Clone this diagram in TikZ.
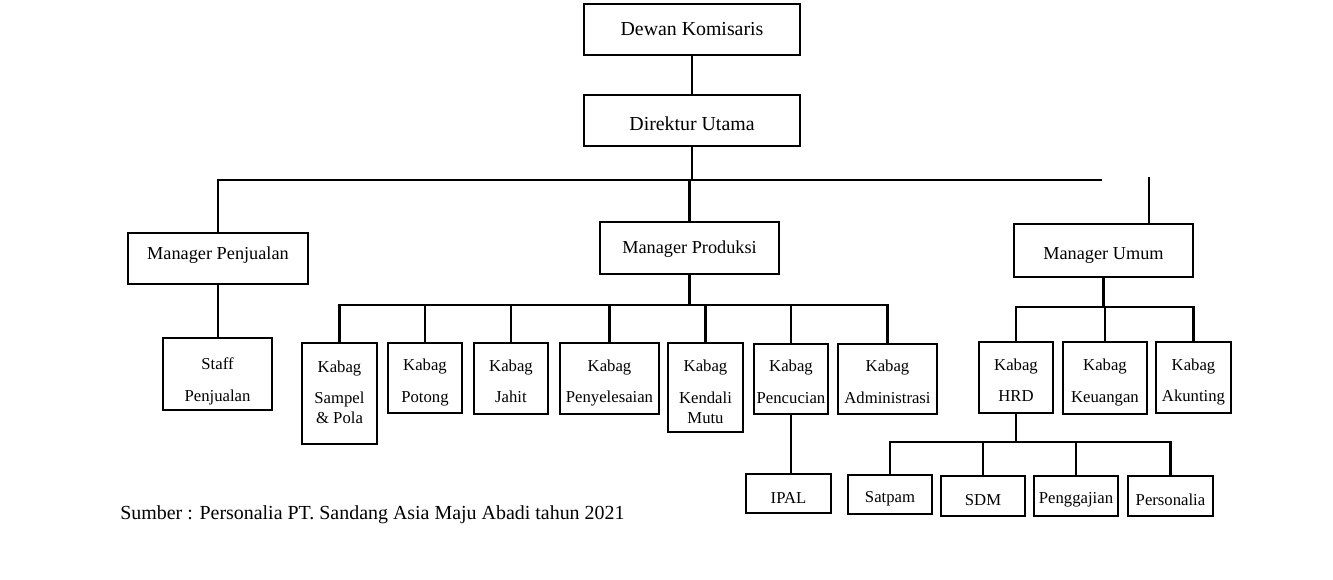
\documentclass[tikz,border=0pt]{standalone}
\usepackage{fontspec}
\setmainfont{Liberation Serif}

\def\u{0.02cm}
\def\gap{6.2pt}
\tikzset{
	lift/.style={execute at begin node={\rule{0pt}{#1}}},
	box/.style={draw=black, line width=1.5pt, align=center, inner sep=0pt, font=\fontsize{9.5}{11.6}\selectfont, lift=11pt},
	kab/.style={box, text height=27.6pt, text depth=0pt},
	top/.style={draw=black, line width=1.5pt, align=center, inner sep=0pt, font=\fontsize{11.3}{13}\selectfont},
	mgr/.style={top, font=\fontsize{10.4}{12}\selectfont},
	sz/.style 2 args={minimum width=#1*\u, minimum height=#2*\u},
	link/.style={line width=1.2pt},
}

\begin{document}
\begin{tikzpicture}[x=\u, y=-\u]
	\useasboundingbox (0,0) rectangle (1333,579);
	\node[top, sz={216}{51}] (dewan) at (692,29.5) {Dewan Komisaris};
	\node[top, sz={216}{51}, lift=11pt] (dirut) at (692,120.5) {Direktur Utama};
	\node[mgr, sz={180}{51}, text depth=5.6pt] (mpenj) at (218,258.5) {Manager Penjualan};
	\node[mgr, sz={179}{52}, lift=9pt] (mprod) at (689.5,248) {Manager Produksi};
	\node[mgr, sz={179}{53}, lift=12.5pt] (mumum) at (1103.5,250.5) {Manager Umum};
	\node[kab, sz={109}{72}, text height=30.9pt] (staff) at (217.5,374) {Staff\\[\gap]Penjualan};
	\node[kab, sz={75}{101}, text height=34.6pt] (sampel) at (339.5,393.5) {Kabag\\[\gap]Sampel\\\& Pola};
	\node[kab, sz={74}{70}] (potong) at (425,378) {Kabag\\[\gap]Potong};
	\node[kab, sz={74}{71}] (jahit) at (511,378.5) {Kabag\\[\gap]Jahit};
	\node[kab, sz={99}{71}] (selesai) at (609.5,378.5) {Kabag\\[\gap]Penyelesaian};
	\node[kab, sz={75}{89}, text height=41pt] (mutu) at (705.5,387.5) {Kabag\\[\gap]Kendali\\Mutu};
	\node[kab, sz={74}{70}] (cuci) at (791,379) {Kabag\\[\gap]Pencucian};
	\node[kab, sz={99}{70}] (admin) at (887.5,379) {Kabag\\[\gap]Administrasi};
	\node[box, sz={85}{39}] (ipal) at (788.5,493.5) {IPAL};
	\node[kab, sz={74}{71}] (hrd) at (1016,377.5) {Kabag\\[\gap]HRD};
	\node[kab, sz={84}{72}] (uang) at (1105,378) {Kabag\\[\gap]Keuangan};
	\node[kab, sz={75}{71}] (akun) at (1193.5,377.5) {Kabag\\[\gap]Akunting};
	\node[box, sz={84}{39}] (satpam) at (890,494.5) {Satpam};
	\node[box, sz={84}{40}] (sdm) at (983,496) {SDM};
	\node[box, sz={84}{40}] (gaji) at (1076,496) {Penggajian};
	\node[box, sz={85}{40}] (pers) at (1170.5,496) {Personalia};
	\node[anchor=west, inner sep=0pt, font=\fontsize{11.35}{13}\selectfont] (sumber) at (120,515) {Sumber : Personalia PT. Sandang Asia Maju Abadi tahun 2021};
	\coordinate (bar1) at (1102,180);
	\coordinate (umtop) at (1149,177);
	\coordinate (bar2) at (692,305);
	\coordinate (bar3) at (1102,307);
	\coordinate (bar4) at (1016,442);
	\draw[link] (dewan) -- (dirut);
	\draw[link] (mpenj) |- (bar1);
	\draw[link] (dirut) -- (dirut |- bar1);
	\draw[link] (mprod) -- (mprod |- bar1);
	\draw[link] (umtop) -- (umtop |- mumum.north);
	\draw[link] (mpenj) -- (mpenj |- staff.north);
	\draw[link] (mprod) -- (mprod |- bar2);
	\draw[link] (sampel) |- (bar2 -| admin) -- (admin);
	\foreach \k in {potong, jahit, selesai, mutu, cuci}
		\draw[link] (\k) -- (\k |- bar2);
	\draw[link] (cuci) -- (cuci |- ipal.north);
	\draw[link] (mumum) -- (mumum |- bar3);
	\draw[link] (hrd) |- (bar3 -| akun) -- (akun);
	\draw[link] (uang) -- (uang |- bar3);
	\draw[link] (hrd) -- (hrd |- bar4);
	\draw[link] (satpam) |- (bar4 -| pers) -- (pers);
	\foreach \k in {sdm, gaji}
		\draw[link] (\k) -- (\k |- bar4);
\end{tikzpicture}
\end{document}
